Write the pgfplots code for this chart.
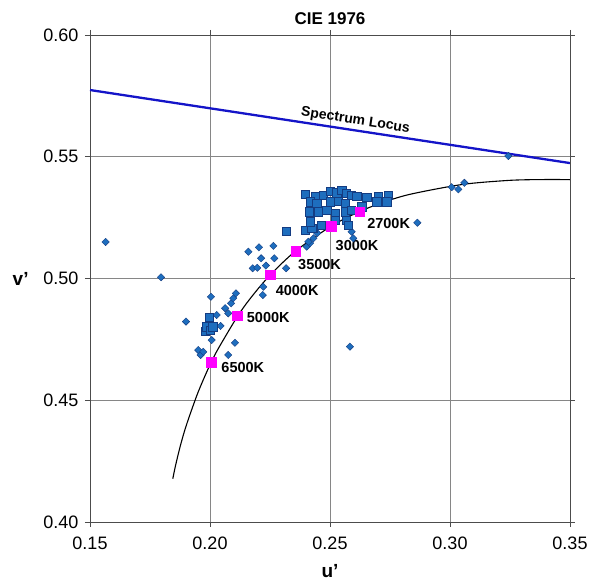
\documentclass[border=0pt]{standalone}
\usepackage{pgfplots}
\pgfplotsset{compat=1.18}
\usepackage{fontspec}
\setmainfont{Liberation Sans}
\definecolor{ptfill}{RGB}{30,110,190}
\definecolor{ptedge}{RGB}{20,60,130}
\definecolor{locus}{RGB}{20,20,200}
\definecolor{mag}{RGB}{255,0,255}
\begin{document}
\begin{tikzpicture}
\useasboundingbox (-90pt,-58pt) rectangle (500pt,522pt);
\begin{axis}[
  at={(0,0)}, anchor=south west,
  width=480pt, height=487pt, scale only axis,
  xmin=0.15, xmax=0.35, ymin=0.40, ymax=0.60,
  xtick={0.15,0.20,0.25,0.30,0.35},
  ytick={0.40,0.45,0.50,0.55,0.60},
  grid=major,
  major grid style={gray!95, line width=0.6pt},
  axis line style={gray!60!black, line width=0.8pt},
  tick align=outside, major tick length=5pt,
  tick style={gray!60!black, line width=0.6pt},
  /pgf/number format/assume math mode=true,
  /pgf/number format/fixed, /pgf/number format/fixed zerofill,
  /pgf/number format/precision=2,
  scaled ticks=false,
  ticklabel style={font=\fontsize{18}{20}\selectfont},
  xticklabel style={yshift=-6pt},
  yticklabel style={xshift=-3pt},
  xlabel={\textbf{u'}}, ylabel={\textbf{v'}},
  xlabel style={font=\fontsize{19}{21}\selectfont, yshift=-8pt},
  ylabel style={font=\fontsize{19}{21}\selectfont, rotate=-90, xshift=-8pt},
  title={\textbf{CIE 1976}},
  title style={font=\fontsize{17}{19}\selectfont, yshift=1pt},
  clip=true,
]
% Spectrum locus
\addplot[locus, line width=2.3pt] coordinates {(0.15,0.5774) (0.35,0.5474)}
  node[pos=0.55, sloped, above, inner sep=2pt, black, font=\fontsize{14}{16}\selectfont\bfseries] {Spectrum Locus};
% Planckian locus
\addplot[black, line width=1.1pt, smooth] coordinates {
(0.18450,0.41775) (0.18568,0.42335) (0.18777,0.43175) (0.19025,0.44006)
(0.19461,0.45220) (0.19815,0.46054) (0.20049,0.46549) (0.20337,0.47107)
(0.21150,0.48451) (0.21738,0.49255) (0.22515,0.50151) (0.23571,0.51130)
(0.25052,0.52152) (0.26242,0.52752) (0.27210,0.53125) (0.28354,0.53462)
(0.30502,0.53860) (0.32310,0.54020) (0.33356,0.54058) (0.34514,0.54064)
(0.35140,0.54054)};
% Diamonds
\addplot[only marks, mark=square*, mark size=2.6pt,
  mark options={rotate=45, fill=ptfill, draw=ptedge, line width=0.4pt}] coordinates {
(0.1565,0.5150) (0.1796,0.5005) (0.1900,0.4823) (0.1951,0.4706) (0.1961,0.4686)
(0.1972,0.4699) (0.2004,0.4925) (0.2007,0.4747) (0.2028,0.4850) (0.2044,0.4805)
(0.2063,0.4878) (0.2076,0.4857) (0.2076,0.4686) (0.2088,0.4898) (0.2097,0.4919)
(0.2104,0.4736) (0.2108,0.4939) (0.2160,0.5110) (0.2178,0.5042) (0.2197,0.5044)
(0.2204,0.5128) (0.2213,0.5083) (0.2220,0.4932) (0.2222,0.4966) (0.2233,0.5053)
(0.2264,0.5134) (0.2268,0.5083) (0.2317,0.5042) (0.2403,0.5131) (0.2417,0.5145)
(0.2431,0.5165) (0.2447,0.5186) (0.2410,0.5151) (0.2590,0.5192) (0.2597,0.5165)
(0.2583,0.4720) (0.2864,0.5229) (0.3007,0.5375) (0.3035,0.5366) (0.3060,0.5393)
(0.3243,0.5503)};
% Squares
\addplot[only marks, mark=square*, mark size=4.1pt,
  mark options={fill=ptfill, draw=ptedge, line width=0.4pt}] coordinates {
(0.1979,0.4782) (0.1986,0.4802) (0.1997,0.4841) (0.2000,0.4789) (0.2011,0.4802)
(0.2319,0.5195) (0.2396,0.5347) (0.2438,0.5336) (0.2472,0.5343) (0.2500,0.5357)
(0.2528,0.5352) (0.2549,0.5361) (0.2569,0.5350) (0.2590,0.5343) (0.2611,0.5339)
(0.2653,0.5333) (0.2701,0.5339) (0.2743,0.5343) (0.2736,0.5315) (0.2695,0.5315)
(0.2417,0.5315) (0.2445,0.5309) (0.2500,0.5315) (0.2535,0.5319) (0.2563,0.5309)
(0.2414,0.5274) (0.2451,0.5274) (0.2486,0.5281) (0.2521,0.5268) (0.2563,0.5274)
(0.2590,0.5281) (0.2632,0.5295) (0.2521,0.5240) (0.2569,0.5240) (0.2431,0.5206)
(0.2465,0.5220) (0.2576,0.5220) (0.2396,0.5199) (0.2424,0.5206) (0.2417,0.5233)};
% CCT points
\addplot[only marks, mark=square*, mark size=4.8pt,
  mark options={fill=mag, draw=mag}] coordinates {
(0.2004,0.4656) (0.2114,0.4847) (0.2251,0.5016) (0.2357,0.5113) (0.2505,0.5214) (0.2624,0.5275)};
\begin{scope}[font=\fontsize{14.5}{16}\selectfont\bfseries]
\node[anchor=west] at ([xshift=7pt,yshift=-5pt]axis cs:0.2004,0.4656) {6500K};
\node[anchor=west] at ([xshift=6pt,yshift=-2pt]axis cs:0.2114,0.4847) {5000K};
\node[anchor=west] at ([xshift=2pt,yshift=-16pt]axis cs:0.2251,0.5016) {4000K};
\node[anchor=west] at ([xshift=-1pt,yshift=-14pt]axis cs:0.2357,0.5113) {3500K};
\node[anchor=west] at ([xshift=1pt,yshift=-19pt]axis cs:0.2505,0.5214) {3000K};
\node[anchor=west] at ([xshift=4pt,yshift=-12pt]axis cs:0.2624,0.5275) {2700K};
\end{scope}
\end{axis}
\end{tikzpicture}
\end{document}
